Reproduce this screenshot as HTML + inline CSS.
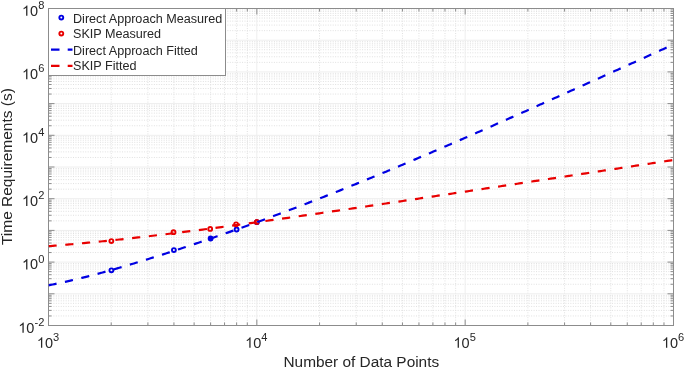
<!DOCTYPE html>
<html><head><meta charset="utf-8"><style>
html,body{margin:0;padding:0;background:#fff;}
svg{display:block;will-change:transform;}
text{font-family:"Liberation Sans",sans-serif;fill:#262626;}
.tl{font-size:14.5px;}
.sup{font-size:11.1px;}
.lg{font-size:12.62px;}
.al{font-size:15.4px;}
</style></head><body>
<svg width="685" height="369" viewBox="0 0 685 369">
<rect width="685" height="369" fill="#fff"/>
<path d="M111.21 8.5V325.5M147.9 8.5V325.5M173.93 8.5V325.5M194.12 8.5V325.5M210.61 8.5V325.5M224.56 8.5V325.5M236.64 8.5V325.5M247.3 8.5V325.5M319.55 8.5V325.5M356.23 8.5V325.5M382.26 8.5V325.5M402.45 8.5V325.5M418.95 8.5V325.5M432.9 8.5V325.5M444.98 8.5V325.5M455.63 8.5V325.5M527.88 8.5V325.5M564.57 8.5V325.5M590.6 8.5V325.5M610.79 8.5V325.5M627.28 8.5V325.5M641.23 8.5V325.5M653.31 8.5V325.5M663.97 8.5V325.5M48.5 315.96H673.5M48.5 310.38H673.5M48.5 306.41H673.5M48.5 303.34H673.5M48.5 300.83H673.5M48.5 298.71H673.5M48.5 296.87H673.5M48.5 295.25H673.5M48.5 284.26H673.5M48.5 278.68H673.5M48.5 274.71H673.5M48.5 271.64H673.5M48.5 269.13H673.5M48.5 267.01H673.5M48.5 265.17H673.5M48.5 263.55H673.5M48.5 252.56H673.5M48.5 246.98H673.5M48.5 243.01H673.5M48.5 239.94H673.5M48.5 237.43H673.5M48.5 235.31H673.5M48.5 233.47H673.5M48.5 231.85H673.5M48.5 220.86H673.5M48.5 215.28H673.5M48.5 211.31H673.5M48.5 208.24H673.5M48.5 205.73H673.5M48.5 203.61H673.5M48.5 201.77H673.5M48.5 200.15H673.5M48.5 189.16H673.5M48.5 183.58H673.5M48.5 179.61H673.5M48.5 176.54H673.5M48.5 174.03H673.5M48.5 171.91H673.5M48.5 170.07H673.5M48.5 168.45H673.5M48.5 157.46H673.5M48.5 151.88H673.5M48.5 147.91H673.5M48.5 144.84H673.5M48.5 142.33H673.5M48.5 140.21H673.5M48.5 138.37H673.5M48.5 136.75H673.5M48.5 125.76H673.5M48.5 120.18H673.5M48.5 116.21H673.5M48.5 113.14H673.5M48.5 110.63H673.5M48.5 108.51H673.5M48.5 106.67H673.5M48.5 105.05H673.5M48.5 94.06H673.5M48.5 88.48H673.5M48.5 84.51H673.5M48.5 81.44H673.5M48.5 78.93H673.5M48.5 76.81H673.5M48.5 74.97H673.5M48.5 73.35H673.5M48.5 62.36H673.5M48.5 56.78H673.5M48.5 52.81H673.5M48.5 49.74H673.5M48.5 47.23H673.5M48.5 45.11H673.5M48.5 43.27H673.5M48.5 41.65H673.5M48.5 30.66H673.5M48.5 25.08H673.5M48.5 21.11H673.5M48.5 18.04H673.5M48.5 15.53H673.5M48.5 13.41H673.5M48.5 11.57H673.5M48.5 9.95H673.5" stroke="#e0e0e0" stroke-width="1" stroke-dasharray="1 1.45" fill="none"/>
<path d="M256.83 8.5V325.5M465.17 8.5V325.5M48.5 293.8H673.5M48.5 262.1H673.5M48.5 230.4H673.5M48.5 198.7H673.5M48.5 167.0H673.5M48.5 135.3H673.5M48.5 103.6H673.5M48.5 71.9H673.5M48.5 40.2H673.5" stroke="#eeeeee" stroke-width="1" fill="none"/>
<path d="M48.5 325.5v-6M48.5 8.5v6M111.21 325.5v-3M111.21 8.5v3M147.9 325.5v-3M147.9 8.5v3M173.93 325.5v-3M173.93 8.5v3M194.12 325.5v-3M194.12 8.5v3M210.61 325.5v-3M210.61 8.5v3M224.56 325.5v-3M224.56 8.5v3M236.64 325.5v-3M236.64 8.5v3M247.3 325.5v-3M247.3 8.5v3M256.83 325.5v-6M256.83 8.5v6M319.55 325.5v-3M319.55 8.5v3M356.23 325.5v-3M356.23 8.5v3M382.26 325.5v-3M382.26 8.5v3M402.45 325.5v-3M402.45 8.5v3M418.95 325.5v-3M418.95 8.5v3M432.9 325.5v-3M432.9 8.5v3M444.98 325.5v-3M444.98 8.5v3M455.63 325.5v-3M455.63 8.5v3M465.17 325.5v-6M465.17 8.5v6M527.88 325.5v-3M527.88 8.5v3M564.57 325.5v-3M564.57 8.5v3M590.6 325.5v-3M590.6 8.5v3M610.79 325.5v-3M610.79 8.5v3M627.28 325.5v-3M627.28 8.5v3M641.23 325.5v-3M641.23 8.5v3M653.31 325.5v-3M653.31 8.5v3M663.97 325.5v-3M663.97 8.5v3M673.5 325.5v-6M673.5 8.5v6M48.5 325.5h6M673.5 325.5h-6M48.5 315.96h3M673.5 315.96h-3M48.5 310.38h3M673.5 310.38h-3M48.5 306.41h3M673.5 306.41h-3M48.5 303.34h3M673.5 303.34h-3M48.5 300.83h3M673.5 300.83h-3M48.5 298.71h3M673.5 298.71h-3M48.5 296.87h3M673.5 296.87h-3M48.5 295.25h3M673.5 295.25h-3M48.5 293.8h6M673.5 293.8h-6M48.5 284.26h3M673.5 284.26h-3M48.5 278.68h3M673.5 278.68h-3M48.5 274.71h3M673.5 274.71h-3M48.5 271.64h3M673.5 271.64h-3M48.5 269.13h3M673.5 269.13h-3M48.5 267.01h3M673.5 267.01h-3M48.5 265.17h3M673.5 265.17h-3M48.5 263.55h3M673.5 263.55h-3M48.5 262.1h6M673.5 262.1h-6M48.5 252.56h3M673.5 252.56h-3M48.5 246.98h3M673.5 246.98h-3M48.5 243.01h3M673.5 243.01h-3M48.5 239.94h3M673.5 239.94h-3M48.5 237.43h3M673.5 237.43h-3M48.5 235.31h3M673.5 235.31h-3M48.5 233.47h3M673.5 233.47h-3M48.5 231.85h3M673.5 231.85h-3M48.5 230.4h6M673.5 230.4h-6M48.5 220.86h3M673.5 220.86h-3M48.5 215.28h3M673.5 215.28h-3M48.5 211.31h3M673.5 211.31h-3M48.5 208.24h3M673.5 208.24h-3M48.5 205.73h3M673.5 205.73h-3M48.5 203.61h3M673.5 203.61h-3M48.5 201.77h3M673.5 201.77h-3M48.5 200.15h3M673.5 200.15h-3M48.5 198.7h6M673.5 198.7h-6M48.5 189.16h3M673.5 189.16h-3M48.5 183.58h3M673.5 183.58h-3M48.5 179.61h3M673.5 179.61h-3M48.5 176.54h3M673.5 176.54h-3M48.5 174.03h3M673.5 174.03h-3M48.5 171.91h3M673.5 171.91h-3M48.5 170.07h3M673.5 170.07h-3M48.5 168.45h3M673.5 168.45h-3M48.5 167.0h6M673.5 167.0h-6M48.5 157.46h3M673.5 157.46h-3M48.5 151.88h3M673.5 151.88h-3M48.5 147.91h3M673.5 147.91h-3M48.5 144.84h3M673.5 144.84h-3M48.5 142.33h3M673.5 142.33h-3M48.5 140.21h3M673.5 140.21h-3M48.5 138.37h3M673.5 138.37h-3M48.5 136.75h3M673.5 136.75h-3M48.5 135.3h6M673.5 135.3h-6M48.5 125.76h3M673.5 125.76h-3M48.5 120.18h3M673.5 120.18h-3M48.5 116.21h3M673.5 116.21h-3M48.5 113.14h3M673.5 113.14h-3M48.5 110.63h3M673.5 110.63h-3M48.5 108.51h3M673.5 108.51h-3M48.5 106.67h3M673.5 106.67h-3M48.5 105.05h3M673.5 105.05h-3M48.5 103.6h6M673.5 103.6h-6M48.5 94.06h3M673.5 94.06h-3M48.5 88.48h3M673.5 88.48h-3M48.5 84.51h3M673.5 84.51h-3M48.5 81.44h3M673.5 81.44h-3M48.5 78.93h3M673.5 78.93h-3M48.5 76.81h3M673.5 76.81h-3M48.5 74.97h3M673.5 74.97h-3M48.5 73.35h3M673.5 73.35h-3M48.5 71.9h6M673.5 71.9h-6M48.5 62.36h3M673.5 62.36h-3M48.5 56.78h3M673.5 56.78h-3M48.5 52.81h3M673.5 52.81h-3M48.5 49.74h3M673.5 49.74h-3M48.5 47.23h3M673.5 47.23h-3M48.5 45.11h3M673.5 45.11h-3M48.5 43.27h3M673.5 43.27h-3M48.5 41.65h3M673.5 41.65h-3M48.5 40.2h6M673.5 40.2h-6M48.5 30.66h3M673.5 30.66h-3M48.5 25.08h3M673.5 25.08h-3M48.5 21.11h3M673.5 21.11h-3M48.5 18.04h3M673.5 18.04h-3M48.5 15.53h3M673.5 15.53h-3M48.5 13.41h3M673.5 13.41h-3M48.5 11.57h3M673.5 11.57h-3M48.5 9.95h3M673.5 9.95h-3M48.5 8.5h6M673.5 8.5h-6" stroke="#8c8c8c" stroke-width="1" fill="none"/>
<rect x="48.5" y="8.5" width="625.0" height="317.0" fill="none" stroke="#8c8c8c" stroke-width="1"/>
<defs><clipPath id="c"><rect x="48.5" y="8.5" width="625.0" height="317.0"/></clipPath></defs>
<g clip-path="url(#c)">
<circle cx="111.4" cy="270.3" r="1.95" fill="none" stroke="#0000e2" stroke-width="1.9"/><circle cx="173.9" cy="250.1" r="1.95" fill="none" stroke="#0000e2" stroke-width="1.9"/><circle cx="210.6" cy="238.5" r="1.95" fill="#0000e2" stroke="#0000e2" stroke-width="1.9"/><circle cx="236.6" cy="229.5" r="1.95" fill="none" stroke="#0000e2" stroke-width="1.9"/><circle cx="256.8" cy="222.2" r="1.95" fill="none" stroke="#0000e2" stroke-width="1.9"/>
<circle cx="111.35" cy="241.1" r="1.95" fill="none" stroke="#e80000" stroke-width="1.9"/><circle cx="173.5" cy="232.2" r="1.95" fill="none" stroke="#e80000" stroke-width="1.9"/><circle cx="210.2" cy="228.9" r="1.95" fill="none" stroke="#e80000" stroke-width="1.9"/><circle cx="236.1" cy="224.3" r="1.95" fill="none" stroke="#e80000" stroke-width="1.9"/><circle cx="256.7" cy="222.0" r="1.95" fill="none" stroke="#e80000" stroke-width="1.9"/>
<path d="M48.50,285.33 L50.58,284.92 L52.67,284.50 L54.75,284.07 L56.83,283.64 L58.92,283.19 L61.00,282.75 L63.08,282.29 L65.17,281.83 L67.25,281.36 L69.33,280.88 L71.42,280.40 L73.50,279.91 L75.58,279.42 L77.67,278.91 L79.75,278.41 L81.83,277.89 L83.92,277.37 L86.00,276.85 L88.08,276.32 L90.17,275.78 L92.25,275.24 L94.33,274.69 L96.42,274.14 L98.50,273.58 L100.58,273.02 L102.67,272.45 L104.75,271.88 L106.83,271.30 L108.92,270.72 L111.00,270.13 L113.08,269.54 L115.17,268.95 L117.25,268.35 L119.33,267.75 L121.42,267.14 L123.50,266.53 L125.58,265.92 L127.67,265.30 L129.75,264.68 L131.83,264.06 L133.92,263.43 L136.00,262.80 L138.08,262.17 L140.17,261.53 L142.25,260.90 L144.33,260.25 L146.42,259.61 L148.50,258.96 L150.58,258.31 L152.67,257.66 L154.75,257.00 L156.83,256.34 L158.92,255.68 L161.00,255.02 L163.08,254.35 L165.17,253.68 L167.25,253.01 L169.33,252.34 L171.42,251.66 L173.50,250.98 L175.58,250.30 L177.67,249.62 L179.75,248.94 L181.83,248.25 L183.92,247.56 L186.00,246.87 L188.08,246.18 L190.17,245.48 L192.25,244.79 L194.33,244.09 L196.42,243.39 L198.50,242.68 L200.58,241.98 L202.67,241.27 L204.75,240.56 L206.83,239.85 L208.92,239.14 L211.00,238.42 L213.08,237.70 L215.17,236.98 L217.25,236.26 L219.33,235.54 L221.42,234.82 L223.50,234.09 L225.58,233.36 L227.67,232.63 L229.75,231.90 L231.83,231.16 L233.92,230.43 L236.00,229.69 L238.08,228.95 L240.17,228.21 L242.25,227.46 L244.33,226.72 L246.42,225.97 L248.50,225.22 L250.58,224.47 L252.67,223.71 L254.75,222.96 L256.83,222.20 L258.92,221.44 L261.00,220.68 L263.08,219.92 L265.17,219.15 L267.25,218.38 L269.33,217.62 L271.42,216.85 L273.50,216.07 L275.58,215.30 L277.67,214.52 L279.75,213.74 L281.83,212.96 L283.92,212.18 L286.00,211.40 L288.08,210.61 L290.17,209.82 L292.25,209.03 L294.33,208.24 L296.42,207.45 L298.50,206.65 L300.58,205.86 L302.67,205.06 L304.75,204.26 L306.83,203.45 L308.92,202.65 L311.00,201.84 L313.08,201.03 L315.17,200.22 L317.25,199.41 L319.33,198.60 L321.42,197.78 L323.50,196.96 L325.58,196.14 L327.67,195.32 L329.75,194.50 L331.83,193.68 L333.92,192.85 L336.00,192.02 L338.08,191.19 L340.17,190.36 L342.25,189.53 L344.33,188.69 L346.42,187.85 L348.50,187.02 L350.58,186.18 L352.67,185.33 L354.75,184.49 L356.83,183.64 L358.92,182.80 L361.00,181.95 L363.08,181.10 L365.17,180.25 L367.25,179.39 L369.33,178.54 L371.42,177.68 L373.50,176.83 L375.58,175.97 L377.67,175.11 L379.75,174.24 L381.83,173.38 L383.92,172.51 L386.00,171.65 L388.08,170.78 L390.17,169.91 L392.25,169.04 L394.33,168.17 L396.42,167.29 L398.50,166.42 L400.58,165.54 L402.67,164.67 L404.75,163.79 L406.83,162.91 L408.92,162.02 L411.00,161.14 L413.08,160.26 L415.17,159.37 L417.25,158.49 L419.33,157.60 L421.42,156.71 L423.50,155.82 L425.58,154.93 L427.67,154.04 L429.75,153.14 L431.83,152.25 L433.92,151.36 L436.00,150.46 L438.08,149.56 L440.17,148.66 L442.25,147.76 L444.33,146.86 L446.42,145.96 L448.50,145.06 L450.58,144.16 L452.67,143.25 L454.75,142.35 L456.83,141.44 L458.92,140.53 L461.00,139.63 L463.08,138.72 L465.17,137.81 L467.25,136.90 L469.33,135.99 L471.42,135.08 L473.50,134.16 L475.58,133.25 L477.67,132.34 L479.75,131.42 L481.83,130.50 L483.92,129.59 L486.00,128.67 L488.08,127.75 L490.17,126.84 L492.25,125.92 L494.33,125.00 L496.42,124.08 L498.50,123.16 L500.58,122.23 L502.67,121.31 L504.75,120.39 L506.83,119.46 L508.92,118.54 L511.00,117.62 L513.08,116.69 L515.17,115.77 L517.25,114.84 L519.33,113.91 L521.42,112.99 L523.50,112.06 L525.58,111.13 L527.67,110.20 L529.75,109.27 L531.83,108.34 L533.92,107.41 L536.00,106.48 L538.08,105.55 L540.17,104.62 L542.25,103.69 L544.33,102.75 L546.42,101.82 L548.50,100.89 L550.58,99.96 L552.67,99.02 L554.75,98.09 L556.83,97.15 L558.92,96.22 L561.00,95.28 L563.08,94.35 L565.17,93.41 L567.25,92.48 L569.33,91.54 L571.42,90.60 L573.50,89.66 L575.58,88.73 L577.67,87.79 L579.75,86.85 L581.83,85.91 L583.92,84.97 L586.00,84.04 L588.08,83.10 L590.17,82.16 L592.25,81.22 L594.33,80.28 L596.42,79.34 L598.50,78.40 L600.58,77.46 L602.67,76.52 L604.75,75.57 L606.83,74.63 L608.92,73.69 L611.00,72.75 L613.08,71.81 L615.17,70.87 L617.25,69.92 L619.33,68.98 L621.42,68.04 L623.50,67.10 L625.58,66.15 L627.67,65.21 L629.75,64.27 L631.83,63.32 L633.92,62.38 L636.00,61.43 L638.08,60.49 L640.17,59.55 L642.25,58.60 L644.33,57.66 L646.42,56.71 L648.50,55.77 L650.58,54.82 L652.67,53.88 L654.75,52.93 L656.83,51.99 L658.92,51.04 L661.00,50.10 L663.08,49.15 L665.17,48.20 L667.25,47.26 L669.33,46.31 L671.42,45.37 L673.50,44.42" fill="none" stroke="#0000e2" stroke-width="2.2" stroke-dasharray="8.2 8.6"/>
<path d="M48.50,246.16 L50.58,246.00 L52.67,245.83 L54.75,245.66 L56.83,245.49 L58.92,245.31 L61.00,245.14 L63.08,244.96 L65.17,244.78 L67.25,244.60 L69.33,244.42 L71.42,244.23 L73.50,244.05 L75.58,243.86 L77.67,243.67 L79.75,243.48 L81.83,243.29 L83.92,243.09 L86.00,242.90 L88.08,242.70 L90.17,242.50 L92.25,242.30 L94.33,242.09 L96.42,241.89 L98.50,241.68 L100.58,241.47 L102.67,241.26 L104.75,241.05 L106.83,240.84 L108.92,240.62 L111.00,240.41 L113.08,240.19 L115.17,239.97 L117.25,239.75 L119.33,239.53 L121.42,239.30 L123.50,239.08 L125.58,238.85 L127.67,238.62 L129.75,238.39 L131.83,238.16 L133.92,237.93 L136.00,237.69 L138.08,237.46 L140.17,237.22 L142.25,236.98 L144.33,236.74 L146.42,236.50 L148.50,236.26 L150.58,236.01 L152.67,235.77 L154.75,235.52 L156.83,235.27 L158.92,235.03 L161.00,234.78 L163.08,234.52 L165.17,234.27 L167.25,234.02 L169.33,233.76 L171.42,233.51 L173.50,233.25 L175.58,232.99 L177.67,232.73 L179.75,232.47 L181.83,232.21 L183.92,231.95 L186.00,231.68 L188.08,231.42 L190.17,231.15 L192.25,230.89 L194.33,230.62 L196.42,230.35 L198.50,230.08 L200.58,229.81 L202.67,229.54 L204.75,229.27 L206.83,229.00 L208.92,228.72 L211.00,228.45 L213.08,228.17 L215.17,227.90 L217.25,227.62 L219.33,227.34 L221.42,227.06 L223.50,226.78 L225.58,226.50 L227.67,226.22 L229.75,225.94 L231.83,225.66 L233.92,225.37 L236.00,225.09 L238.08,224.81 L240.17,224.52 L242.25,224.23 L244.33,223.95 L246.42,223.66 L248.50,223.37 L250.58,223.09 L252.67,222.80 L254.75,222.51 L256.83,222.22 L258.92,221.93 L261.00,221.63 L263.08,221.34 L265.17,221.05 L267.25,220.76 L269.33,220.46 L271.42,220.17 L273.50,219.88 L275.58,219.58 L277.67,219.29 L279.75,218.99 L281.83,218.69 L283.92,218.40 L286.00,218.10 L288.08,217.80 L290.17,217.51 L292.25,217.21 L294.33,216.91 L296.42,216.61 L298.50,216.31 L300.58,216.01 L302.67,215.71 L304.75,215.41 L306.83,215.11 L308.92,214.81 L311.00,214.51 L313.08,214.20 L315.17,213.90 L317.25,213.60 L319.33,213.30 L321.42,212.99 L323.50,212.69 L325.58,212.39 L327.67,212.08 L329.75,211.78 L331.83,211.47 L333.92,211.17 L336.00,210.86 L338.08,210.56 L340.17,210.25 L342.25,209.95 L344.33,209.64 L346.42,209.33 L348.50,209.03 L350.58,208.72 L352.67,208.41 L354.75,208.10 L356.83,207.80 L358.92,207.49 L361.00,207.18 L363.08,206.87 L365.17,206.56 L367.25,206.26 L369.33,205.95 L371.42,205.64 L373.50,205.33 L375.58,205.02 L377.67,204.71 L379.75,204.40 L381.83,204.09 L383.92,203.78 L386.00,203.47 L388.08,203.16 L390.17,202.85 L392.25,202.54 L394.33,202.23 L396.42,201.92 L398.50,201.61 L400.58,201.30 L402.67,200.99 L404.75,200.67 L406.83,200.36 L408.92,200.05 L411.00,199.74 L413.08,199.43 L415.17,199.12 L417.25,198.80 L419.33,198.49 L421.42,198.18 L423.50,197.87 L425.58,197.55 L427.67,197.24 L429.75,196.93 L431.83,196.62 L433.92,196.30 L436.00,195.99 L438.08,195.68 L440.17,195.36 L442.25,195.05 L444.33,194.74 L446.42,194.42 L448.50,194.11 L450.58,193.80 L452.67,193.48 L454.75,193.17 L456.83,192.86 L458.92,192.54 L461.00,192.23 L463.08,191.91 L465.17,191.60 L467.25,191.29 L469.33,190.97 L471.42,190.66 L473.50,190.34 L475.58,190.03 L477.67,189.71 L479.75,189.40 L481.83,189.08 L483.92,188.77 L486.00,188.46 L488.08,188.14 L490.17,187.83 L492.25,187.51 L494.33,187.20 L496.42,186.88 L498.50,186.57 L500.58,186.25 L502.67,185.94 L504.75,185.62 L506.83,185.31 L508.92,184.99 L511.00,184.68 L513.08,184.36 L515.17,184.04 L517.25,183.73 L519.33,183.41 L521.42,183.10 L523.50,182.78 L525.58,182.47 L527.67,182.15 L529.75,181.84 L531.83,181.52 L533.92,181.21 L536.00,180.89 L538.08,180.57 L540.17,180.26 L542.25,179.94 L544.33,179.63 L546.42,179.31 L548.50,178.99 L550.58,178.68 L552.67,178.36 L554.75,178.05 L556.83,177.73 L558.92,177.42 L561.00,177.10 L563.08,176.78 L565.17,176.47 L567.25,176.15 L569.33,175.84 L571.42,175.52 L573.50,175.20 L575.58,174.89 L577.67,174.57 L579.75,174.25 L581.83,173.94 L583.92,173.62 L586.00,173.31 L588.08,172.99 L590.17,172.67 L592.25,172.36 L594.33,172.04 L596.42,171.72 L598.50,171.41 L600.58,171.09 L602.67,170.78 L604.75,170.46 L606.83,170.14 L608.92,169.83 L611.00,169.51 L613.08,169.19 L615.17,168.88 L617.25,168.56 L619.33,168.24 L621.42,167.93 L623.50,167.61 L625.58,167.29 L627.67,166.98 L629.75,166.66 L631.83,166.35 L633.92,166.03 L636.00,165.71 L638.08,165.40 L640.17,165.08 L642.25,164.76 L644.33,164.45 L646.42,164.13 L648.50,163.81 L650.58,163.50 L652.67,163.18 L654.75,162.86 L656.83,162.55 L658.92,162.23 L661.00,161.91 L663.08,161.60 L665.17,161.28 L667.25,160.96 L669.33,160.65 L671.42,160.33 L673.50,160.01" fill="none" stroke="#e80000" stroke-width="2.2" stroke-dasharray="8.2 8.6"/>
</g>
<path d="M763 0L583 0L583 1147C540 1106 483 1065 413 1024C342 983 279 952 223 931L223 1105C324 1152 412 1210 487 1277C562 1344 615 1409 646 1472L763 1472Z" transform="translate(36.85 347.7) scale(0.007080 -0.007080)" fill="#262626"/><text x="44.91" y="347.7" class="tl">0<tspan dy="-6.8" class="sup">3</tspan></text><path d="M763 0L583 0L583 1147C540 1106 483 1065 413 1024C342 983 279 952 223 931L223 1105C324 1152 412 1210 487 1277C562 1344 615 1409 646 1472L763 1472Z" transform="translate(245.18 347.7) scale(0.007080 -0.007080)" fill="#262626"/><text x="253.24" y="347.7" class="tl">0<tspan dy="-6.8" class="sup">4</tspan></text><path d="M763 0L583 0L583 1147C540 1106 483 1065 413 1024C342 983 279 952 223 931L223 1105C324 1152 412 1210 487 1277C562 1344 615 1409 646 1472L763 1472Z" transform="translate(453.52 347.7) scale(0.007080 -0.007080)" fill="#262626"/><text x="461.58" y="347.7" class="tl">0<tspan dy="-6.8" class="sup">5</tspan></text><path d="M763 0L583 0L583 1147C540 1106 483 1065 413 1024C342 983 279 952 223 931L223 1105C324 1152 412 1210 487 1277C562 1344 615 1409 646 1472L763 1472Z" transform="translate(661.85 347.7) scale(0.007080 -0.007080)" fill="#262626"/><text x="669.91" y="347.7" class="tl">0<tspan dy="-6.8" class="sup">6</tspan></text><path d="M763 0L583 0L583 1147C540 1106 483 1065 413 1024C342 983 279 952 223 931L223 1105C324 1152 412 1210 487 1277C562 1344 615 1409 646 1472L763 1472Z" transform="translate(18.31 332.8) scale(0.007080 -0.007080)" fill="#262626"/><text x="26.37" y="332.8" class="tl">0<tspan dy="-6.8" class="sup">-2</tspan></text><path d="M763 0L583 0L583 1147C540 1106 483 1065 413 1024C342 983 279 952 223 931L223 1105C324 1152 412 1210 487 1277C562 1344 615 1409 646 1472L763 1472Z" transform="translate(22.00 269.4) scale(0.007080 -0.007080)" fill="#262626"/><text x="30.07" y="269.4" class="tl">0<tspan dy="-6.8" class="sup">0</tspan></text><path d="M763 0L583 0L583 1147C540 1106 483 1065 413 1024C342 983 279 952 223 931L223 1105C324 1152 412 1210 487 1277C562 1344 615 1409 646 1472L763 1472Z" transform="translate(22.00 206.0) scale(0.007080 -0.007080)" fill="#262626"/><text x="30.07" y="206.0" class="tl">0<tspan dy="-6.8" class="sup">2</tspan></text><path d="M763 0L583 0L583 1147C540 1106 483 1065 413 1024C342 983 279 952 223 931L223 1105C324 1152 412 1210 487 1277C562 1344 615 1409 646 1472L763 1472Z" transform="translate(22.00 142.6) scale(0.007080 -0.007080)" fill="#262626"/><text x="30.07" y="142.6" class="tl">0<tspan dy="-6.8" class="sup">4</tspan></text><path d="M763 0L583 0L583 1147C540 1106 483 1065 413 1024C342 983 279 952 223 931L223 1105C324 1152 412 1210 487 1277C562 1344 615 1409 646 1472L763 1472Z" transform="translate(22.00 79.2) scale(0.007080 -0.007080)" fill="#262626"/><text x="30.07" y="79.2" class="tl">0<tspan dy="-6.8" class="sup">6</tspan></text><path d="M763 0L583 0L583 1147C540 1106 483 1065 413 1024C342 983 279 952 223 931L223 1105C324 1152 412 1210 487 1277C562 1344 615 1409 646 1472L763 1472Z" transform="translate(22.00 15.8) scale(0.007080 -0.007080)" fill="#262626"/><text x="30.07" y="15.8" class="tl">0<tspan dy="-6.8" class="sup">8</tspan></text>
<text x="361.3" y="367" text-anchor="middle" class="al">Number of Data Points</text>
<text transform="translate(12.4,166.6) rotate(-90)" text-anchor="middle" class="al" style="font-size:15.5px">Time Requirements (s)</text>
<rect x="48.5" y="8.5" width="177" height="67" fill="#fff" stroke="#8c8c8c" stroke-width="1"/>
<circle cx="61.3" cy="17.6" r="1.95" fill="none" stroke="#0000e2" stroke-width="1.9"/>
<circle cx="61.3" cy="33.6" r="1.95" fill="none" stroke="#e80000" stroke-width="1.9"/>
<path d="M51 49.7h21.5" stroke="#0000e2" stroke-width="2.2" stroke-dasharray="8.5 8.2"/>
<path d="M51 65.8h21.5" stroke="#e80000" stroke-width="2.2" stroke-dasharray="8.5 8.2"/>
<text x="73" y="22.6" class="lg">Direct Approach Measured</text>
<text x="73" y="38.4" class="lg">SKIP Measured</text>
<text x="73" y="54.5" class="lg">Direct Approach Fitted</text>
<text x="73" y="70.4" class="lg">SKIP Fitted</text>
</svg>
</body></html>
